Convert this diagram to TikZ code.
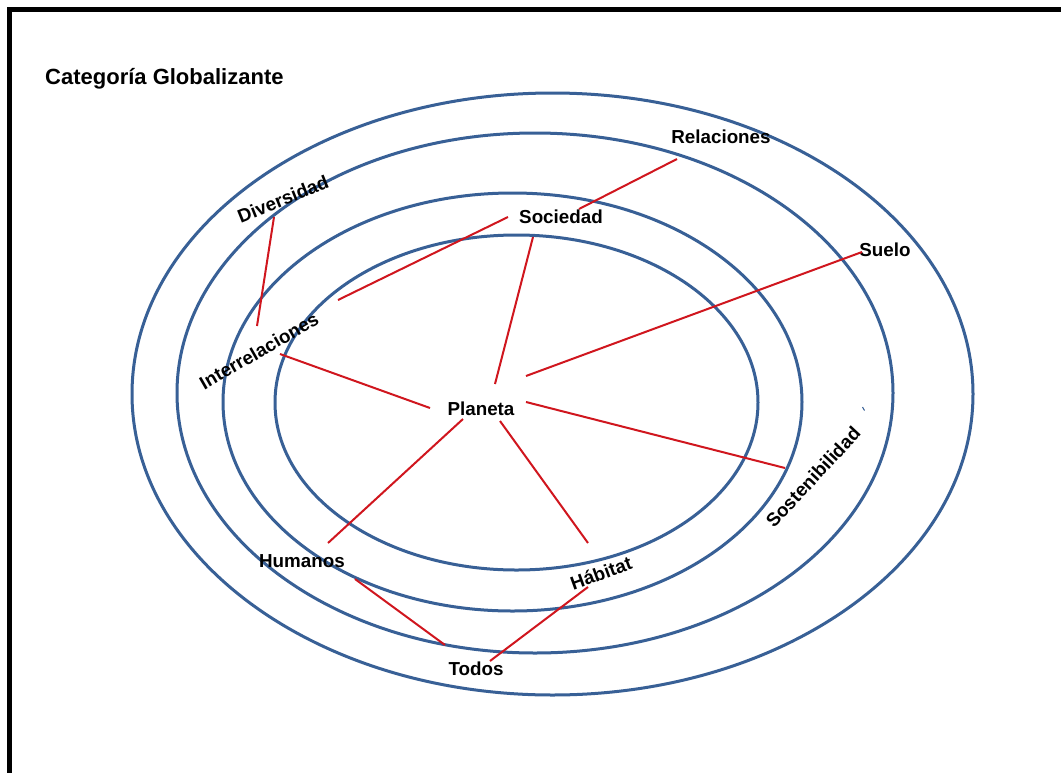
\documentclass[tikz,border=0pt]{standalone}
\usepackage{fontspec}
\setmainfont{Liberation Sans}
\definecolor{ringblue}{RGB}{56,96,150}
\definecolor{linkred}{RGB}{208,22,30}
\begin{document}
\begin{tikzpicture}[x=1pt,y=-1pt,
  ring/.style={draw=ringblue, line width=3pt},
  link/.style={draw=linkred, line width=2pt},
  lbl/.style={font=\bfseries\fontsize{18.8}{22}\selectfont, inner sep=0pt},
  ttl/.style={font=\bfseries\fontsize{22}{26}\selectfont, inner sep=0pt}]
\useasboundingbox (0,0) rectangle (1061,772);
\clip (0,0) rectangle (1061,772);
\fill[white] (0,0) rectangle (1061,772);
\draw[line width=5.5pt] (9.5,9.5) rectangle (1120,820);

% rings
\draw[ring] (552.5,394) ellipse [x radius=420.5pt, y radius=301pt];
\draw[ring] (535,393) ellipse [x radius=358pt, y radius=260pt];
\draw[ring] (512.5,402) ellipse [x radius=289.5pt, y radius=209pt];
\draw[ring] (516.5,402.5) ellipse [x radius=241.5pt, y radius=167.5pt];

% small marks
\draw[ringblue, line width=1pt] (862.5,407) -- (864.5,410.5);

% labels
\node[ttl, anchor=base west] (title) at (45,84) {Categoría Globalizante};
\node[lbl, anchor=base] (relaciones) at (721,143) {Relaciones};
\node[lbl, anchor=base] (sociedad) at (561,223) {Sociedad};
\node[lbl, anchor=base] (suelo) at (885,256) {Suelo};
\node[lbl, anchor=base] (planeta) at (481,415) {Planeta};
\node[lbl, anchor=base] (humanos) at (302,567) {Humanos};
\node[lbl, anchor=base] (todos) at (476,675) {Todos};
\node[lbl, rotate=22] (diversidad) at (283,199) {Diversidad};
\node[lbl, rotate=30] (interrel) at (259,351) {Interrelaciones};
\node[lbl, rotate=47] (sosten) at (813,477) {Sostenibilidad};
\node[lbl, rotate=20] (habitat) at (601,573) {Hábitat};

% connector end points
\coordinate (div-a) at (274,217);
\coordinate (div-b) at (257,326);
\coordinate (int-a) at (338,300);
\coordinate (soc-a) at (508,217);
\coordinate (soc-b) at (579,209);
\coordinate (rel-a) at (677,159);
\coordinate (soc-c) at (533,237);
\coordinate (pla-a) at (495,384);
\coordinate (sue-a) at (862,252);
\coordinate (pla-b) at (526,376);
\coordinate (int-b) at (280,354);
\coordinate (pla-c) at (430,408);
\coordinate (pla-d) at (526,402);
\coordinate (sos-a) at (785,468);
\coordinate (pla-e) at (463,419);
\coordinate (hum-a) at (328,543);
\coordinate (pla-f) at (500,421);
\coordinate (hab-a) at (588,543);
\coordinate (hum-b) at (355,579);
\coordinate (tod-a) at (445,645);
\coordinate (hab-b) at (588,587);
\coordinate (tod-b) at (490,661);

% connectors
\draw[link] (div-a) -- (div-b);
\draw[link] (int-a) -- (soc-a);
\draw[link] (soc-b) -- (rel-a);
\draw[link] (soc-c) -- (pla-a);
\draw[link] (sue-a) -- (pla-b);
\draw[link] (int-b) -- (pla-c);
\draw[link] (pla-d) -- (sos-a);
\draw[link] (pla-e) -- (hum-a);
\draw[link] (pla-f) -- (hab-a);
\draw[link] (hum-b) -- (tod-a);
\draw[link] (hab-b) -- (tod-b);
\end{tikzpicture}
\end{document}
